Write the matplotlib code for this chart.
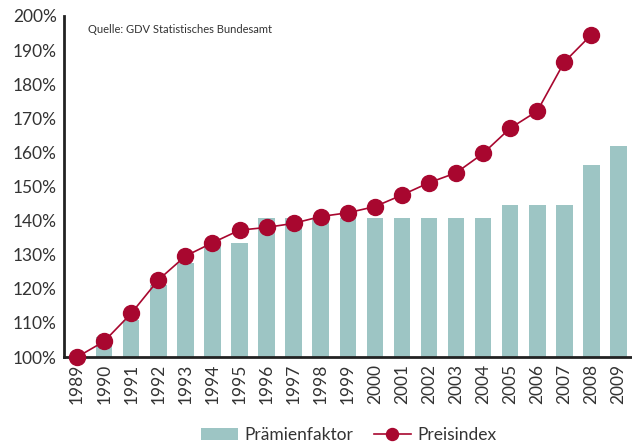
import numpy as np
import matplotlib
matplotlib.use('Agg')
import matplotlib.pyplot as plt

plt.rcParams['font.family'] = ['Lato', 'DejaVu Sans']

# data (index, 1989 = 100 %)
years = [str(y) for y in range(1989, 2010)]
praemienfaktor = [100, 106, 111, 121, 127.5, 133, 133.5, 140.8, 140.8, 140.8, 140.8,
                  140.8, 140.8, 140.8, 140.8, 140.8, 144.6, 144.6, 144.6, 156.3, 161.9]
preisindex = [100, 104.6, 112.8, 122.6, 129.6, 133.5, 137.2, 138.0, 139.2, 141.2, 142.3,
              144.1, 147.5, 151.1, 154.0, 159.7, 167.1, 172.1, 186.5, 194.5]
yticks = list(range(100, 201, 10))

bar_col = '#9dc5c4'
line_col = '#a8072f'
txt_col = '#333333'

fig = plt.figure(figsize=(6.32, 4.43), dpi=100)
ax = fig.add_axes([0.101, 0.194, 0.899, 0.77])

x = np.arange(len(years))
bars = ax.bar(x, np.array(praemienfaktor) - 100, bottom=100, width=0.61, color=bar_col,
              label='Prämienfaktor', zorder=2)
line, = ax.plot(x[:len(preisindex)], preisindex, color=line_col, lw=1.2, marker='o', ms=11.5,
                mec=line_col, mfc=line_col, label='Preisindex', zorder=3, clip_on=False)

ax.set_xlim(-0.49, 20.5)
ax.set_ylim(100, 200)
ax.set_xticks(x)
ax.set_xticklabels(years, rotation=90, fontsize=12.5, color=txt_col)
ax.set_yticks(yticks)
ax.set_yticklabels(['{}%'.format(v) for v in yticks], fontsize=12.5, color=txt_col)
ax.tick_params(axis='both', length=0, pad=5)

for s in ['top', 'right']:
    ax.spines[s].set_visible(False)
ax.spines['left'].set_linewidth(2)
ax.spines['bottom'].set_linewidth(2)
ax.spines['left'].set_color('#222222')
ax.spines['bottom'].set_color('#222222')

ax.text(0.042, 0.975, 'Quelle: GDV Statistisches Bundesamt', transform=ax.transAxes,
        fontsize=8, color=txt_col, va='top')

leg = fig.legend([bars, line], ['Prämienfaktor', 'Preisindex'], loc='lower center',
                 bbox_to_anchor=(0.552, -0.035), ncol=2, frameon=False,
                 fontsize=12.5, handlelength=2.1, columnspacing=1.2, handletextpad=0.4,
                 markerscale=0.75)
for t in leg.get_texts():
    t.set_color(txt_col)

fig.savefig('out.png', dpi=100)
